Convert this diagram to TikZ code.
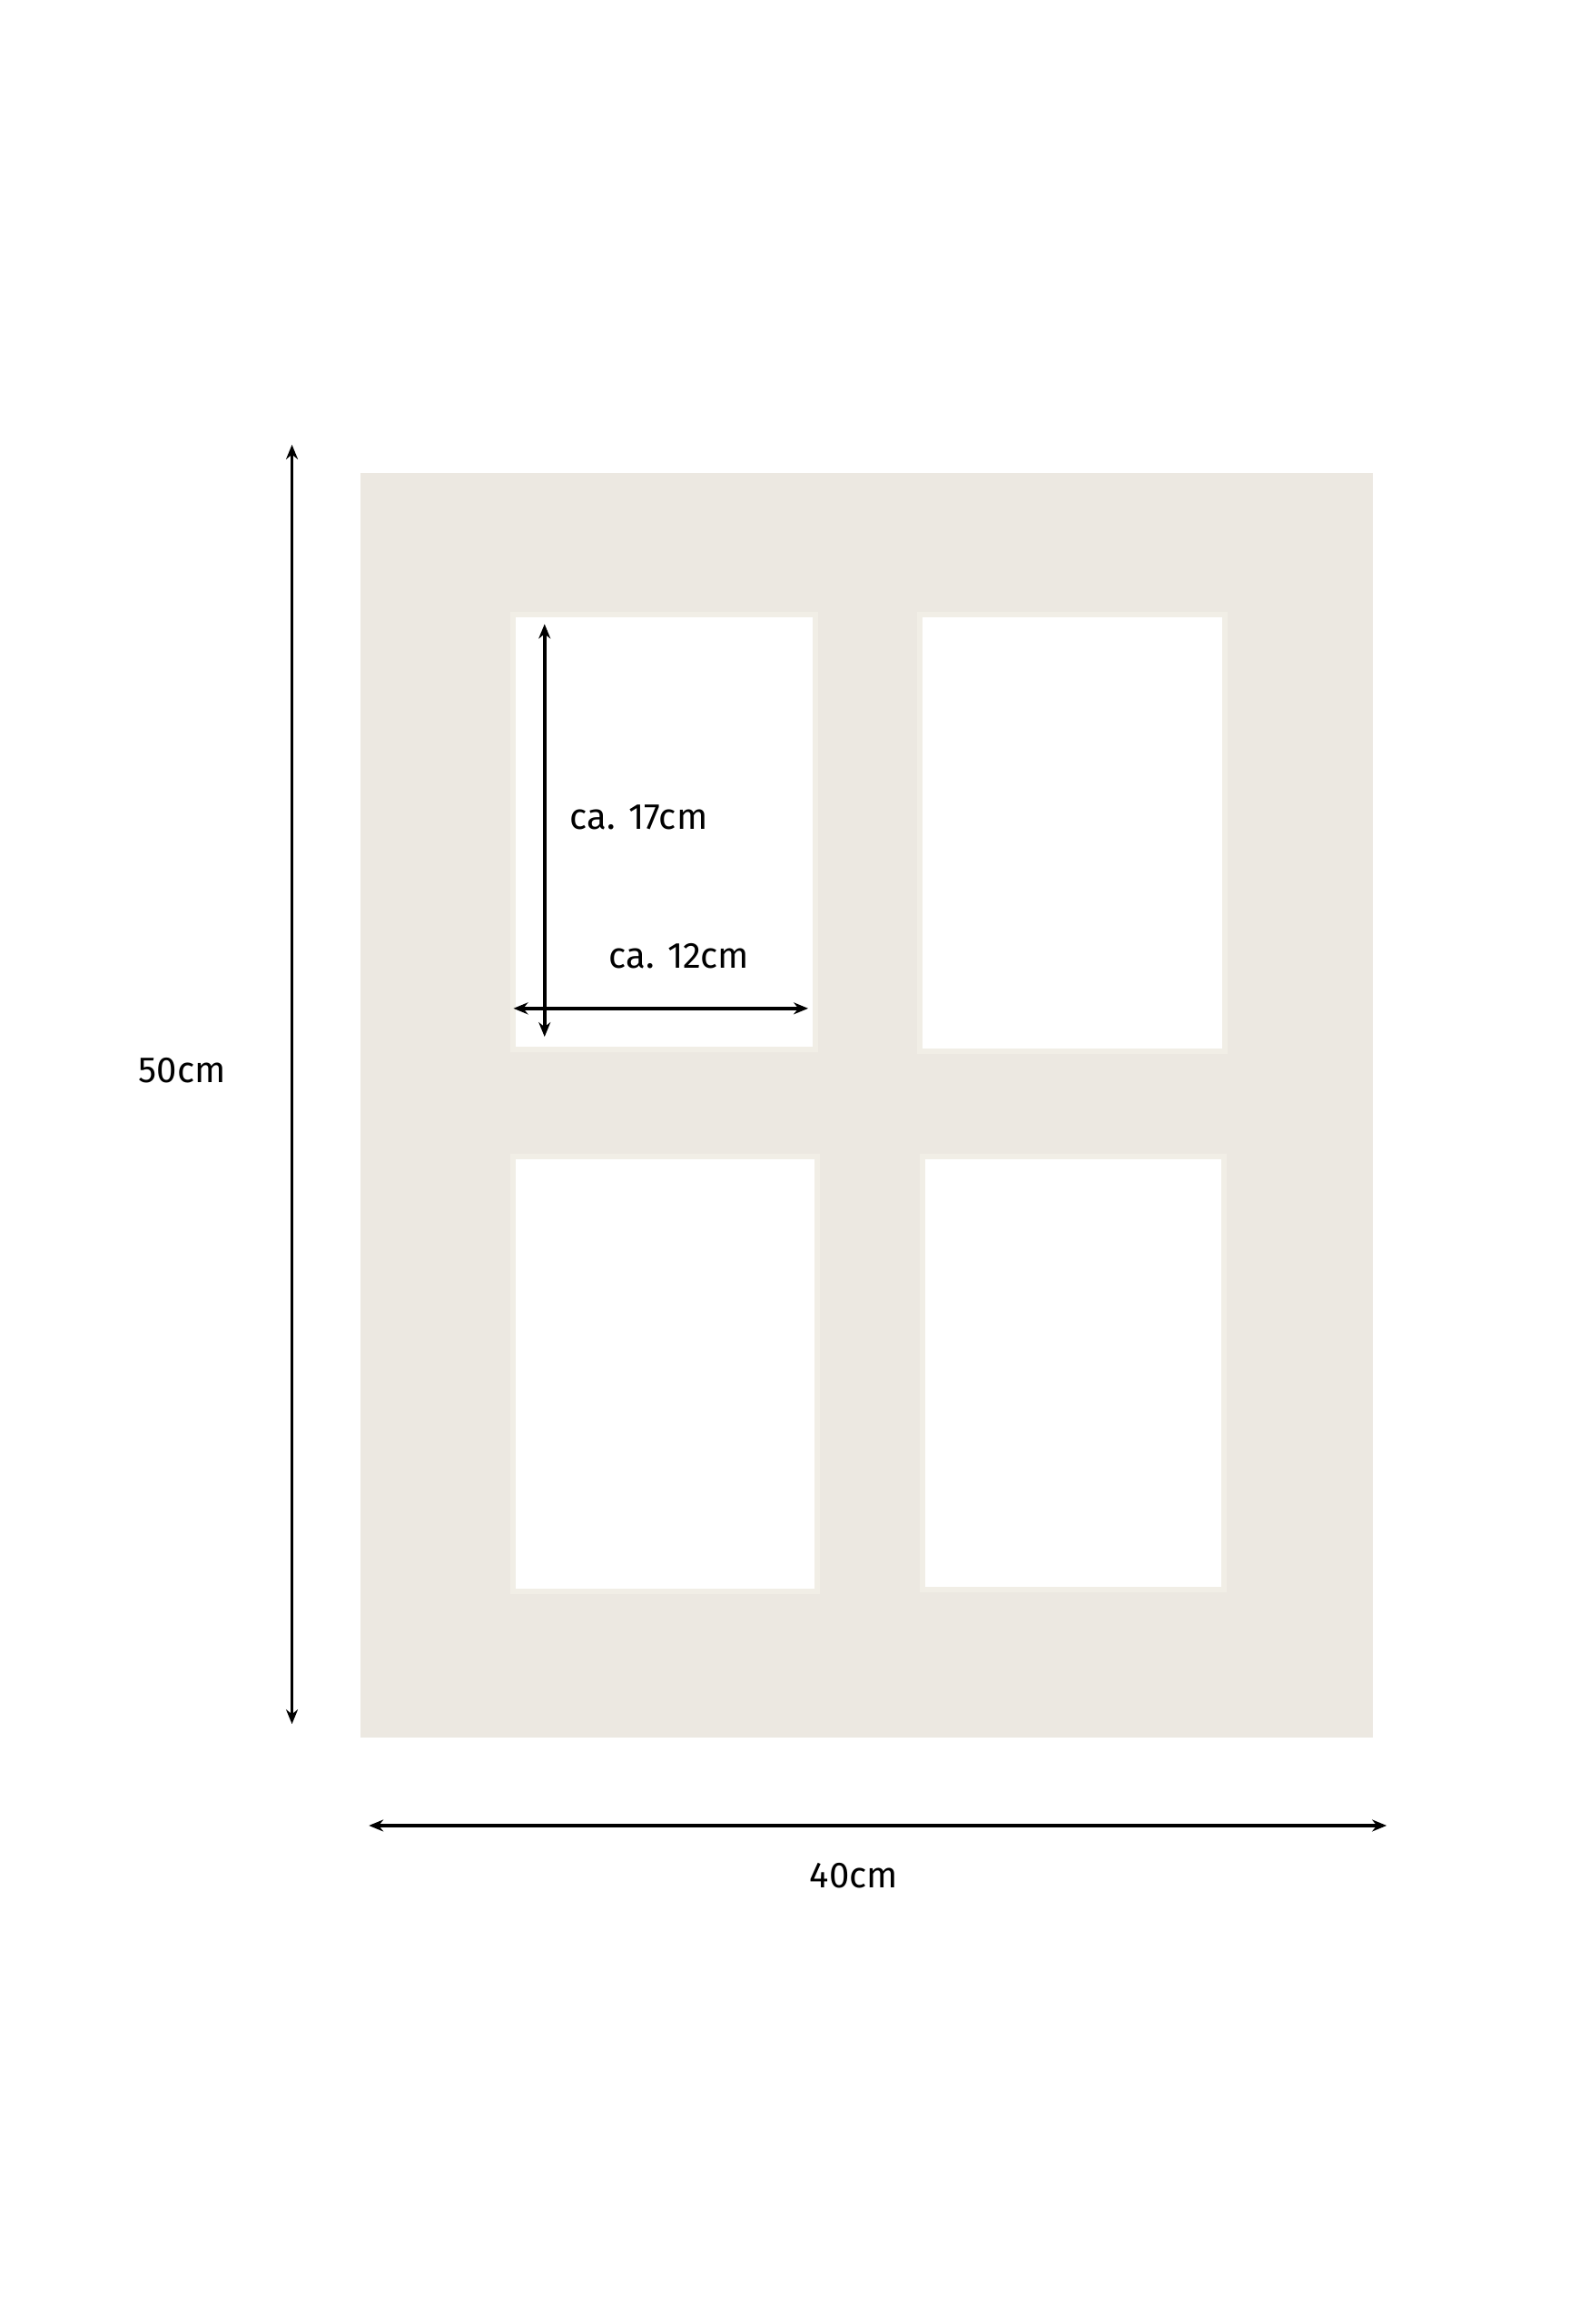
\documentclass[tikz,border=0pt]{standalone}
\usepackage{fontspec}
\setmainfont{Fira Sans}
\usetikzlibrary{arrows.meta}
\definecolor{matcol}{HTML}{ECE8E1}
\definecolor{bevel}{HTML}{F1EEE6}
\tikzset{
  mat/.style={fill=matcol, draw=none},
  win/.style={fill=white, draw=bevel, line width=6pt},
  dimline/.style={line width=3.5pt, {Stealth[length=16pt,width=13pt]}-{Stealth[length=16pt,width=13pt]}},
  lbl/.style={font=\fontsize{40}{48}\selectfont, inner sep=0pt, text=black}
}
\begin{document}
\begin{tikzpicture}[x=1.008pt,y=-1.008pt]
\useasboundingbox (0,0) rectangle (1736.1,2539.7);
\fill[white] (0,0) rectangle (1736.1,2539.7);
% mat board
\path[mat] (394,517) rectangle (1500,1899);
% windows
\path[win] (561,672) rectangle (891,1147);
\path[win] (1005,672) rectangle (1338,1149);
\path[win] (561,1264) rectangle (893,1739);
\path[win] (1008,1264) rectangle (1337,1737);
% outer dimension arrows
\coordinate (vtop) at (319,486);
\coordinate (vbot) at (319,1884);
\draw[dimline] (vtop) -- (vbot);
\node[lbl] (h50) at (199,1170) {50cm};
\coordinate (hl) at (403,1995);
\coordinate (hr) at (1515,1995);
\draw[dimline] (hl) -- (hr);
\node[lbl] (w40) at (933,2050) {40cm};
% inner dimension arrows
\coordinate (ivt) at (595,682);
\coordinate (ivb) at (595,1133);
\draw[dimline] (ivt) -- (ivb);
\coordinate (ihl) at (561,1102);
\coordinate (ihr) at (883,1102);
\draw[dimline] (ihl) -- (ihr);
\node[lbl] (h17) at (698,893) {ca. 17cm};
\node[lbl] (w12) at (742,1045) {ca. 12cm};
\end{tikzpicture}
\end{document}
